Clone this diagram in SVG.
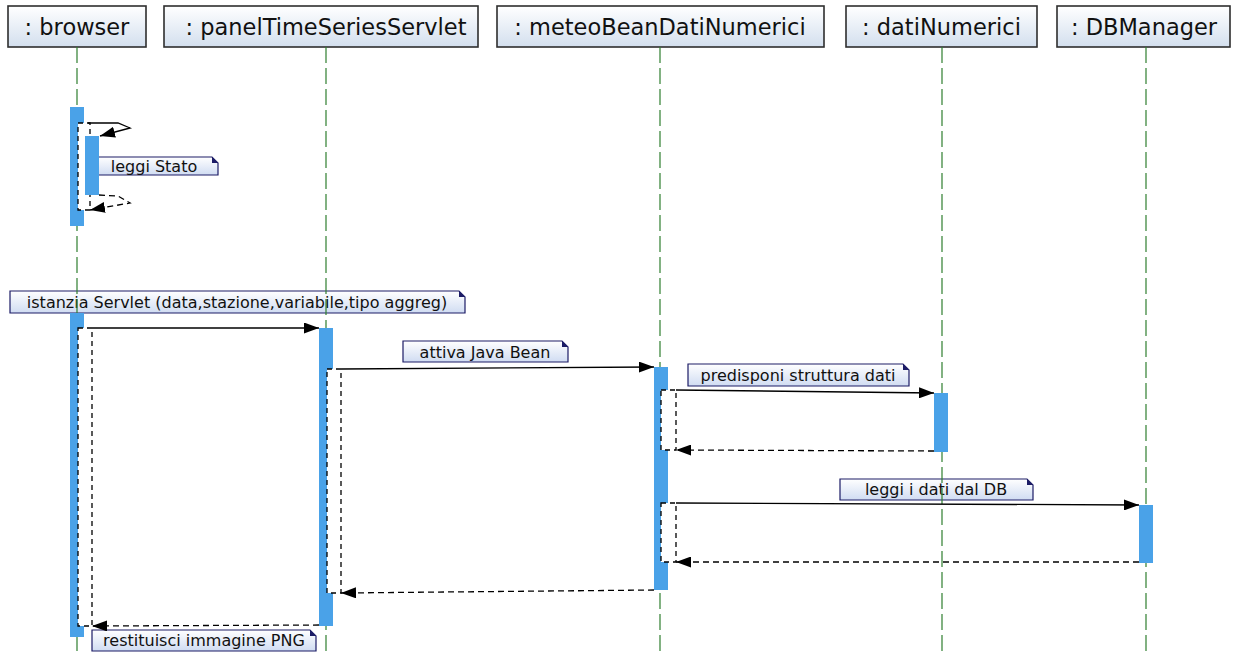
<svg xmlns="http://www.w3.org/2000/svg" width="1238" height="655" viewBox="0 0 1238 655">
  <defs>
    <linearGradient id="headFill" x1="0" y1="0" x2="0" y2="1">
      <stop offset="0" stop-color="#ffffff"/>
      <stop offset="1" stop-color="#d3dfee"/>
    </linearGradient>
    <linearGradient id="noteFill" x1="0" y1="0" x2="0" y2="1">
      <stop offset="0" stop-color="#ffffff"/>
      <stop offset="1" stop-color="#d0dcf2"/>
    </linearGradient>
    <marker id="arrow" viewBox="0 0 15 11" markerUnits="userSpaceOnUse" markerWidth="15" markerHeight="11" refX="15" refY="5.5" orient="auto">
      <path d="M0,0 L15,5.5 L0,11 Z" fill="#000"/>
    </marker>
  </defs>
  <style>
    .head { fill: url(#headFill); stroke: #2e2e2e; stroke-width: 1.6; }
    .headText { font-family: "DejaVu Sans", "Liberation Sans", sans-serif; font-size: 22.5px; fill: #111; text-anchor: middle; }
    .life { stroke: #2f7f2f; stroke-width: 1.2; stroke-dasharray: 16 5; fill: none; }
    .bar { fill: #4aa2e8; }
    .focus { fill: #ffffff; stroke: #000; stroke-width: 1.3; stroke-dasharray: 5 4; }
    .call { stroke: #000; stroke-width: 1.3; fill: none; marker-end: url(#arrow); }
    .reply { stroke: #000; stroke-width: 1.3; stroke-dasharray: 6 4; fill: none; marker-end: url(#arrow); }
    .note { fill: url(#noteFill); stroke: #1c1c66; stroke-width: 1.2; }
    .fold { fill: #1c1c66; }
    .noteText { font-family: "DejaVu Sans", "Liberation Sans", sans-serif; font-size: 16px; fill: #111; text-anchor: middle; }
  </style>

  <rect x="0" y="0" width="1238" height="655" fill="#ffffff"/>

  <!-- message labels (notes) -->
  <g id="labels">
    <g id="note-leggiStato">
      <path class="note" d="M90,157 H212 L218,163 V175 H90 Z"/>
      <path class="fold" d="M212,157 L218,163 H212 Z"/>
      <text class="noteText" x="154" y="171.5">leggi Stato</text>
    </g>
    <g id="note-istanzia">
      <path class="note" d="M10,291 H459 L465,297 V313 H10 Z"/>
      <path class="fold" d="M459,291 L465,297 H459 Z"/>
      <text class="noteText" x="237" y="308">istanzia Servlet (data,stazione,variabile,tipo aggreg)</text>
    </g>
    <g id="note-attiva">
      <path class="note" d="M403,341 H562 L568,347 V362 H403 Z"/>
      <path class="fold" d="M562,341 L568,347 H562 Z"/>
      <text class="noteText" x="485" y="357.5">attiva Java Bean</text>
    </g>
    <g id="note-predisponi">
      <path class="note" d="M688,364 H903 L909,370 V386 H688 Z"/>
      <path class="fold" d="M903,364 L909,370 H903 Z"/>
      <text class="noteText" x="798" y="381">predisponi struttura dati</text>
    </g>
    <g id="note-leggiDB">
      <path class="note" d="M840,479 H1027 L1033,485 V500 H840 Z"/>
      <path class="fold" d="M1027,479 L1033,485 H1027 Z"/>
      <text class="noteText" x="936" y="495">leggi i dati dal DB</text>
    </g>
    <g id="note-restituisci">
      <path class="note" d="M92,630 H310 L316,636 V651 H92 Z"/>
      <path class="fold" d="M310,630 L316,636 H310 Z"/>
      <text class="noteText" x="204" y="646">restituisci immagine PNG</text>
    </g>
  </g>

  <!-- lifelines -->
  <g id="browser">
    <rect class="head" x="8" y="6" width="138" height="41"/>
    <text class="headText" x="77" y="35">: browser</text>
    <line class="life" x1="77" y1="47" x2="77" y2="655"/>
    <rect class="bar" x="70" y="107" width="14" height="119"/>
    <rect class="focus" x="78" y="123" width="12" height="87"/>
    <rect class="bar" x="85" y="136" width="14" height="59"/>
    <rect class="bar" x="70" y="313" width="14" height="324"/>
    <rect class="focus" x="78" y="328" width="14" height="298"/>
  </g>

  <g id="panelTimeSeriesServlet">
    <rect class="head" x="164" y="6" width="314" height="41"/>
    <text class="headText" x="326" y="35">: panelTimeSeriesServlet</text>
    <line class="life" x1="326" y1="47" x2="326" y2="655"/>
    <rect class="bar" x="319" y="328" width="14" height="298"/>
    <rect class="focus" x="327" y="369" width="14" height="224"/>
  </g>

  <g id="meteoBeanDatiNumerici">
    <rect class="head" x="497" y="6" width="327" height="41"/>
    <text class="headText" x="660" y="35">: meteoBeanDatiNumerici</text>
    <line class="life" x1="660" y1="47" x2="660" y2="655"/>
    <rect class="bar" x="654" y="367" width="14" height="223"/>
    <rect class="focus" x="661" y="390" width="15" height="60"/>
    <rect class="focus" x="661" y="503" width="15" height="59"/>
  </g>

  <g id="datiNumerici">
    <rect class="head" x="846" y="6" width="191" height="41"/>
    <text class="headText" x="941.5" y="35">: datiNumerici</text>
    <line class="life" x1="942" y1="47" x2="942" y2="655"/>
    <rect class="bar" x="934" y="393" width="14" height="59"/>
  </g>

  <g id="DBManager">
    <rect class="head" x="1057" y="6" width="173" height="41"/>
    <text class="headText" x="1144" y="35">: DBManager</text>
    <line class="life" x1="1146" y1="47" x2="1146" y2="655"/>
    <rect class="bar" x="1139" y="505" width="14" height="58"/>
  </g>

  <!-- messages -->
  <g id="connectors">
    <path class="call" d="M88,123 L118,123 L130,128 L100,136"/>
    <path class="reply" d="M99,195 L118,196 L130,203 L90,210"/>
    <line class="call" x1="92" y1="328" x2="319" y2="328"/>
    <line class="call" x1="341" y1="369" x2="654" y2="367"/>
    <line class="call" x1="676" y1="390" x2="934" y2="393"/>
    <line class="reply" x1="934" y1="451" x2="676" y2="450"/>
    <line class="call" x1="676" y1="503" x2="1139" y2="505"/>
    <line class="reply" x1="1139" y1="562" x2="676" y2="562"/>
    <line class="reply" x1="654" y1="590" x2="341" y2="593"/>
    <line class="reply" x1="319" y1="625" x2="92" y2="626"/>
  </g>
</svg>
